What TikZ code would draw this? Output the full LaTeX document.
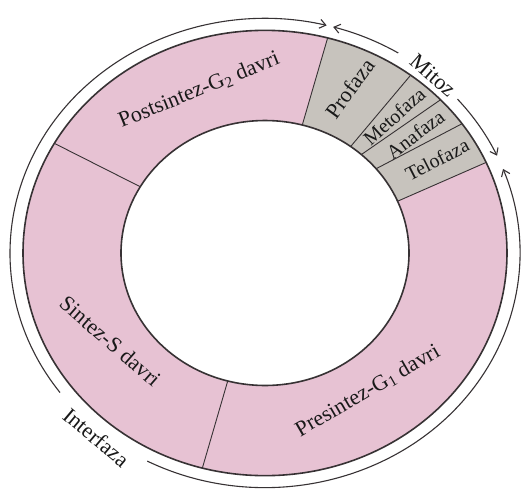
\documentclass[tikz,border=0pt]{standalone}
\usepackage{fontspec}
\setmainfont{Liberation Serif}
\usetikzlibrary{arrows.meta}
\definecolor{PhasePink}{RGB}{231,194,211}
\definecolor{PhaseGray}{RGB}{199,195,189}
\definecolor{RimDark}{RGB}{55,50,52}
\tikzset{
  phase/.style={font=\fontsize{22}{24}\selectfont, text=black!90, inner sep=0pt},
  small phase/.style={phase, font=\fontsize{20}{22}\selectfont},
  rim/.style={RimDark, line width=1.6pt},
  cut/.style={RimDark, line width=0.9pt},
  span/.style={RimDark, line width=1.1pt, -{Straight Barb[length=6pt,width=9pt]}}
}

\begin{document}
\begin{tikzpicture}[x=1pt,y=1pt]
  \useasboundingbox[fill=white] (-265,-240) rectangle (256,253);
  \begin{scope}[yscale=0.92]
    % Ring
    \fill[PhasePink,even odd rule] (0,0) circle(242) (0,0) circle(144);
    % Mitosis part
    \fill[PhaseGray] (24:242) arc[start angle=24,end angle=75,radius=242]
      -- (75:144) arc[start angle=75,end angle=23,radius=144] -- cycle;
    % Dividers
    \foreach \a/\b in {75/75,53/53.5,43.5/48,35.5/39.5,24/23,-105/-105,150.5/150}{
      \draw[cut] (\b:144) -- (\a:242);}
    \draw[rim] (0,0) circle(242);
    \draw[rim] (0,0) circle(144);
    % Arcs round the ring
    \draw[span] (58.5:255) arc[start angle=58.5,end angle=74.5,radius=255];
    \draw[span] (41:255) arc[start angle=41,end angle=24.5,radius=255];
    \draw[span] (216.5:255) arc[start angle=216.5,end angle=76,radius=255];
    \draw[span] (-117.5:255) arc[start angle=-117.5,end angle=21,radius=255];
    % Labels
    \node[phase,rotate=22] (g2) at (110.4:189) {Postsintez-G\textsubscript{2} davri};
    \node[phase,rotate=-41] (s) at (211.8:182) {Sintez-S davri};
    \node[phase,rotate=30] (g1) at (-55.6:182) {Presintez-G\textsubscript{1} davri};
    \node[phase,rotate=54] (pro) at (64.6:198) {Profaza};
    \node[small phase,rotate=42] (meta) at (49:197) {Metofaza};
    \node[small phase,rotate=37] (ana) at (40.6:198) {Anafaza};
    \node[small phase,rotate=27] (telo) at (30.6:200) {Telofaza};
    \node[phase,rotate=-41] (mitoz) at (49:256) {Mitoz};
    \node[phase,rotate=-40] (inter) at (-130.1:262) {Interfaza};
  \end{scope}
\end{tikzpicture}
\end{document}
